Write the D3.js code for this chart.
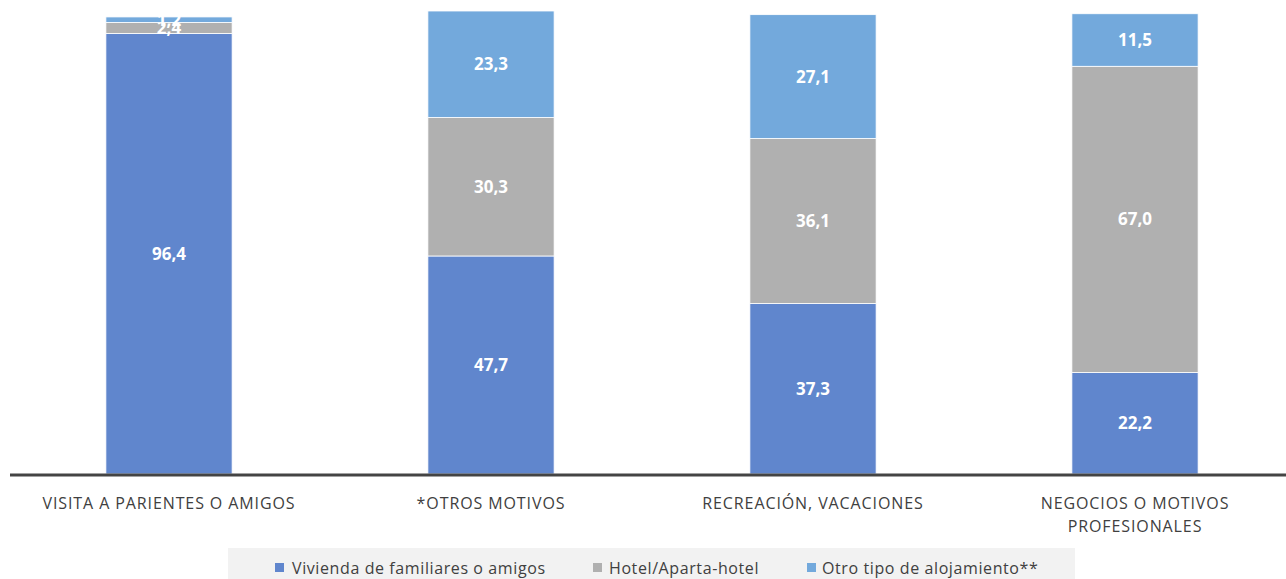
<!DOCTYPE html>
<html>
<head>
<meta charset="utf-8">
<script src="https://cdn.jsdelivr.net/npm/d3@7"></script>
<style>
  body { margin: 0; background: #fff; }
  svg { display: block; font-family: "Open Sans", sans-serif; }
</style>
</head>
<body>
<div id="chart"></div>
<script>
const categories = ["VISITA A PARIENTES O AMIGOS", "*OTROS MOTIVOS", "RECREACIÓN, VACACIONES", "NEGOCIOS O MOTIVOS PROFESIONALES"];
const seriesNames = ["Vivienda de familiares o amigos", "Hotel/Aparta-hotel", "Otro tipo de alojamiento**"];
const vivienda = [96.4, 47.7, 37.3, 22.2];
const hotel = [2.4, 30.3, 36.1, 67.0];
const otro = [1.2, 23.3, 27.1, 11.5];
const colors = ["#6086cd", "#b0b0b0", "#73a9dc"];

const W = 1286, H = 579;
const baseY = 474;

const svg = d3.select("#chart").append("svg")
    .attr("width", W)
    .attr("height", H);

const rows = categories.map((c, i) => ({ cat: c, v0: vivienda[i], v1: hotel[i], v2: otro[i] }));
const stacked = d3.stack().keys(["v0", "v1", "v2"])(rows);

const x = d3.scaleBand()
    .domain(categories)
    .range([8, 1296])
    .paddingInner(0.608)
    .paddingOuter(0.304);

const y = d3.scaleLinear()
    .domain([0, 101.3])
    .range([baseY, 11]);

const fmt = v => d3.format(".1f")(v).replace(".", ",");

stacked.forEach((layer, li) => {
    const g = svg.append("g");
    g.selectAll("rect")
        .data(layer)
        .enter()
        .append("rect")
        .attr("x", d => x(d.data.cat))
        .attr("width", x.bandwidth())
        .attr("y", d => y(d[1]))
        .attr("height", d => y(d[0]) - y(d[1]))
        .attr("fill", colors[li])
        .attr("stroke", "#fff")
        .attr("stroke-width", 0.8);

    g.selectAll("text")
        .data(layer)
        .enter()
        .append("text")
        .attr("x", d => x(d.data.cat) + x.bandwidth() / 2)
        .attr("y", d => (y(d[0]) + y(d[1])) / 2 + 6)
        .attr("text-anchor", "middle")
        .attr("fill", "#fff")
        .attr("font-weight", "bold")
        .attr("font-size", 17)
        .text(d => fmt(d[1] - d[0]));
});

// baseline
svg.append("line")
    .attr("x1", 10).attr("x2", W)
    .attr("y1", baseY + 1).attr("y2", baseY + 1)
    .attr("stroke", "#444")
    .attr("stroke-width", 3);

// category labels
const xAxis = d3.axisBottom(x).tickSize(0).tickPadding(0);
const ax = svg.append("g")
    .attr("transform", `translate(0,${baseY})`)
    .call(xAxis);
ax.select(".domain").remove();
ax.selectAll("text")
    .attr("font-size", 16)
    .attr("font-family", "Open Sans, sans-serif")
    .attr("letter-spacing", 0.9)
    .attr("fill", "#404040")
    .attr("dy", null)
    .attr("y", 0)
    .each(function (d) {
        const t = d3.select(this);
        t.text(null);
        const lines = d === "NEGOCIOS O MOTIVOS PROFESIONALES" ? ["NEGOCIOS O MOTIVOS", "PROFESIONALES"] : [d];
        lines.forEach((ln, i) => {
            t.append("tspan")
                .attr("x", 0)
                .attr("y", 35 + i * 23)
                .text(ln);
        });
    });

// legend
const legend = svg.append("g");
legend.append("rect")
    .attr("x", 228).attr("y", 548)
    .attr("width", 847).attr("height", 31)
    .attr("fill", "#f2f2f2");

const legendX = [275, 593, 807];
const legendTextX = [292, 609, 822];
seriesNames.forEach((name, i) => {
    legend.append("rect")
        .attr("x", legendX[i]).attr("y", 563)
        .attr("width", 9).attr("height", 9)
        .attr("fill", colors[i]);
    legend.append("text")
        .attr("x", legendTextX[i])
        .attr("y", 574)
        .attr("font-size", 16)
        .attr("letter-spacing", 0.6)
        .attr("fill", "#404040")
        .text(name);
});
</script>
</body>
</html>
